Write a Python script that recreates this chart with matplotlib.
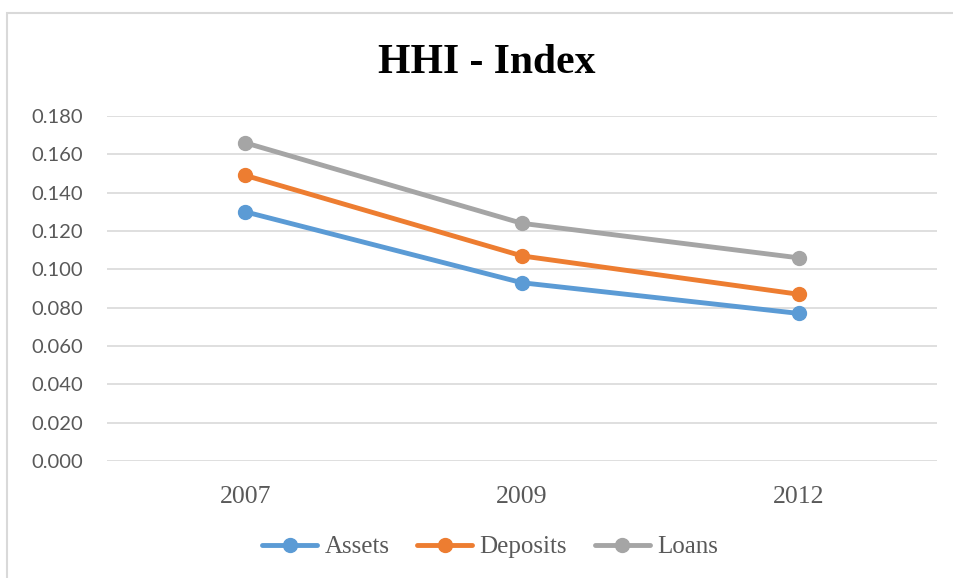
import matplotlib
matplotlib.use('Agg')
import matplotlib.pyplot as plt
from matplotlib.patches import Rectangle

# Datos
years = ['2007', '2009', '2012']
assets = [0.130, 0.093, 0.077]
deposits = [0.149, 0.107, 0.087]
loans = [0.166, 0.124, 0.106]
y_ticks = [0.0, 0.02, 0.04, 0.06, 0.08, 0.10, 0.12, 0.14, 0.16, 0.18]

series = [('Assets', assets, '#5B9BD5'),
          ('Deposits', deposits, '#ED7D31'),
          ('Loans', loans, '#A5A5A5')]

fig = plt.figure(figsize=(9.54, 5.78), dpi=100)
ax = fig.add_axes([107/954, 1 - 461/578, (937 - 107)/954, (461 - 116)/578])

# Marco del gráfico (solo se ven borde superior e izquierdo)
fig.patches.append(Rectangle((7/954, -0.1), 1.2, 1 - 13/578 + 0.1,
                             transform=fig.transFigure, fill=False,
                             edgecolor='#D9D9D9', lw=1.5))

x = range(len(years))
for name, vals, color in series:
    ax.plot(x, vals, color=color, lw=3.5, marker='o', markersize=10,
            label=name, solid_capstyle='round', zorder=3)

ax.set_xlim(-0.5, 2.5)
ax.set_ylim(0, 0.18)
ax.set_yticks(y_ticks)
ax.set_yticklabels([f'{v:.3f}' for v in y_ticks], fontfamily='Lato',
                   fontsize=14.5, color='#595959')
ax.set_xticks(list(x))
ax.set_xticklabels(years, fontfamily='Liberation Serif', fontsize=18.5,
                   color='#595959')
ax.tick_params(axis='both', length=0)
ax.tick_params(axis='y', pad=17)
ax.tick_params(axis='x', pad=18)
ax.grid(axis='y', color='#D9D9D9', lw=1.2)
ax.set_axisbelow(True)
for s in ax.spines.values():
    s.set_visible(False)

fig.text(487/954, 1 - 63/578, 'HHI - Index', ha='center', va='center',
         fontfamily='Liberation Serif', fontsize=30, fontweight='bold')

leg = fig.legend(loc='center', bbox_to_anchor=(490/954, 1 - 547/578), ncol=3,
                 frameon=False, prop={'family': 'Liberation Serif', 'size': 18},
                 handlelength=2.2, handletextpad=0.3, columnspacing=1.1)
for t in leg.get_texts():
    t.set_color('#595959')

plt.savefig('out.png', dpi=100)
plt.close()
